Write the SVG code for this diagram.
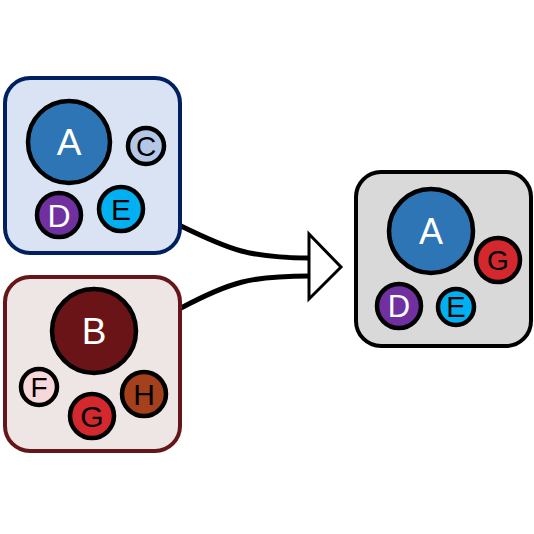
<svg xmlns="http://www.w3.org/2000/svg" width="534" height="534" viewBox="0 0 534 534">
<style>
.c{stroke:#000;stroke-width:4.5}
.t{font-family:"Liberation Sans",Arial,sans-serif;text-anchor:middle}
.w{fill:#fff}
.k{fill:#000}
.edge{fill:none;stroke:#000;stroke-width:5}
</style>
<rect width="534" height="534" fill="#fff"/>
<g id="connectors">
<path class="edge" d="M181,226 C230,250 250,258 310,258"/>
<path class="edge" d="M181,308 C230,282 250,276 310,276"/>
<polygon points="309,234 341,267 309,299" fill="#fff" stroke="#000" stroke-width="3"/>
</g>
<g id="group1">
<rect x="5" y="78" width="175" height="175" rx="25" fill="#dae3f3" stroke="#002060" stroke-width="4"/>
<g id="g1A"><circle class="c" cx="69" cy="142" r="41" fill="#2e75b6"/><text class="t w" x="69" y="155" font-size="37">A</text></g>
<g id="g1C"><circle class="c" cx="146" cy="146" r="18" fill="#b4c7e7"/><text class="t k" x="146" y="156" font-size="28">C</text></g>
<g id="g1D"><circle class="c" cx="59" cy="215" r="22" fill="#7030a0"/><text class="t w" x="59" y="226.5" font-size="32">D</text></g>
<g id="g1E"><circle class="c" cx="121" cy="209" r="22" fill="#00b0f0"/><text class="t k" x="121" y="219.5" font-size="30">E</text></g>
</g>
<g id="group2">
<rect x="5" y="277" width="175" height="174" rx="25" fill="#eee6e5" stroke="#641618" stroke-width="4"/>
<g id="g2B"><circle class="c" cx="94" cy="331" r="42" fill="#6a1418"/><text class="t w" x="94" y="344" font-size="37">B</text></g>
<g id="g2F"><circle class="c" cx="39" cy="387" r="18" fill="#f8d7da"/><text class="t k" x="39" y="396.5" font-size="28">F</text></g>
<g id="g2G"><circle class="c" cx="92" cy="416" r="22" fill="#d2282e"/><text class="t k" x="92" y="426.5" font-size="30">G</text></g>
<g id="g2H"><circle class="c" cx="144" cy="394" r="22" fill="#a5401d"/><text class="t k" x="144" y="404.5" font-size="30">H</text></g>
</g>
<g id="result">
<rect x="356" y="172" width="175" height="174" rx="25" fill="#d9d9d9" stroke="#000" stroke-width="4"/>
<g id="rA"><circle class="c" cx="431" cy="231" r="42" fill="#2e75b6"/><text class="t w" x="431" y="243.5" font-size="36">A</text></g>
<g id="rG"><circle class="c" cx="498" cy="260" r="22" fill="#d2282e"/><text class="t k" x="498" y="269.5" font-size="28">G</text></g>
<g id="rD"><circle class="c" cx="399" cy="306" r="22" fill="#7030a0"/><text class="t w" x="399" y="317" font-size="31">D</text></g>
<g id="rE"><circle class="c" cx="456" cy="307" r="18" fill="#00b0f0"/><text class="t k" x="456" y="317" font-size="29">E</text></g>
</g>
</svg>
